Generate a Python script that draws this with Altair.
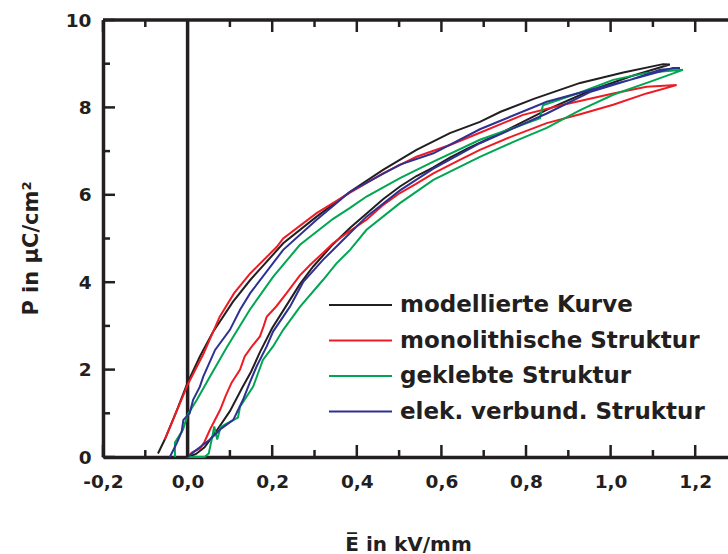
import altair as alt
import pandas as pd

# ---------------- data ----------------
series = ["modellierte Kurve", "monolithische Struktur", "geklebte Struktur", "elek. verbund. Struktur"]
colors = ["#231f20", "#ed1c24", "#00a651", "#2e3192"]

# modelled curve: lower branch up to the apex, then upper branch back down
black_x = [0.0, 0.02, 0.04, 0.065, 0.1, 0.13, 0.15, 0.171, 0.2, 0.226, 0.265, 0.297, 0.344, 0.385, 0.424,
           0.462, 0.502, 0.541, 0.58, 0.62, 0.66, 0.739, 0.85, 0.951, 1.05, 1.14,
           1.124, 1.03, 0.928, 0.82, 0.74, 0.691, 0.62, 0.541, 0.462, 0.384, 0.305, 0.226, 0.148,
           0.107, 0.06, 0.029, 0.0, -0.025, -0.054, -0.07]
black_y = [0.0, 0.07, 0.22, 0.55, 1.05, 1.6, 1.95, 2.4, 2.95, 3.35, 3.95, 4.36, 4.87, 5.25, 5.58,
           5.9, 6.19, 6.43, 6.62, 6.85, 7.05, 7.41, 7.95, 8.38, 8.72, 8.98,
           8.99, 8.8, 8.56, 8.2, 7.9, 7.67, 7.41, 7.03, 6.57, 6.07, 5.5, 4.89, 4.05,
           3.55, 2.86, 2.3, 1.7, 1.08, 0.4, 0.08]

red_x = [0.0, 0.01, 0.03, 0.04, 0.053, 0.077, 0.09, 0.104, 0.124, 0.135, 0.152, 0.171, 0.18, 0.187, 0.21,
         0.234, 0.265, 0.29, 0.32, 0.344, 0.38, 0.423, 0.46, 0.502, 0.54, 0.581, 0.64, 0.691, 0.77, 0.849,
         0.93, 1.006, 1.085, 1.156,
         1.085, 1.006, 0.888, 0.793, 0.691, 0.62, 0.541, 0.462, 0.384, 0.305, 0.226, 0.211, 0.148,
         0.11, 0.076, 0.037, 0.0, -0.03, -0.054]
red_y = [0.0, 0.1, 0.2, 0.35, 0.63, 1.08, 1.4, 1.7, 2.0, 2.3, 2.53, 2.76, 3.0, 3.21, 3.45,
         3.75, 4.15, 4.4, 4.67, 4.89, 5.15, 5.43, 5.75, 6.04, 6.25, 6.49, 6.78, 7.03, 7.35, 7.64,
         7.85, 8.06, 8.32, 8.51,
         8.47, 8.32, 8.06, 7.83, 7.42, 7.14, 6.87, 6.49, 6.05, 5.58, 5.0, 4.81, 4.2,
         3.75, 3.21, 2.35, 1.65, 0.95, 0.4]

green_x = [0.0, 0.04, 0.05, 0.058, 0.063, 0.07, 0.078, 0.088, 0.119, 0.124, 0.155, 0.178, 0.202, 0.226,
           0.266, 0.32, 0.352, 0.384, 0.423, 0.502, 0.581, 0.691, 0.77, 0.849, 0.928, 1.006, 1.094, 1.171,
           1.085, 1.006, 0.928, 0.84, 0.833, 0.77, 0.691, 0.581, 0.502, 0.423, 0.384, 0.344, 0.265,
           0.202, 0.147, 0.092, 0.053, 0.022, 0.0, -0.011, -0.03, -0.03]
green_y = [0.0, 0.0, 0.08, 0.45, 0.7, 0.4, 0.68, 0.74, 0.9, 1.15, 1.61, 2.22, 2.53, 2.91,
           3.44, 4.05, 4.43, 4.74, 5.2, 5.81, 6.34, 6.87, 7.21, 7.53, 7.94, 8.29, 8.59, 8.86,
           8.79, 8.63, 8.34, 8.05, 7.75, 7.53, 7.26, 6.76, 6.38, 5.96, 5.7, 5.45, 4.85,
           4.12, 3.37, 2.5, 1.84, 1.31, 0.97, 0.62, 0.33, 0.0]

blue_x = [0.0, 0.022, 0.053, 0.077, 0.108, 0.131, 0.147, 0.163, 0.187, 0.202, 0.242, 0.273, 0.32, 0.368,
          0.423, 0.502, 0.581, 0.691, 0.849, 0.951, 1.046, 1.147,
          1.164, 1.117, 1.046, 0.951, 0.849, 0.691, 0.581, 0.502, 0.384, 0.305, 0.226, 0.148,
          0.124, 0.1, 0.065, 0.037, 0.029, 0.013, 0.005, -0.01, -0.014, -0.025, -0.042]
blue_y = [0.0, 0.17, 0.4, 0.63, 0.85, 1.31, 1.7, 2.07, 2.53, 2.87, 3.44, 4.0, 4.51, 4.97,
          5.5, 6.1, 6.6, 7.18, 7.86, 8.35, 8.63, 8.9,
          8.9, 8.86, 8.63, 8.4, 8.13, 7.5, 6.95, 6.69, 6.07, 5.43, 4.74, 3.75,
          3.37, 2.91, 2.45, 1.84, 1.61, 1.31, 1.0, 0.85, 0.58, 0.33, 0.0]

x_major_ticks = [-0.2, 0.0, 0.2, 0.4, 0.6, 0.8, 1.0, 1.2]
x_minor_ticks = [-0.1, 0.1, 0.3, 0.5, 0.7, 0.9, 1.1]
y_major_ticks = [0, 2, 4, 6, 8, 10]
y_minor_ticks = [1, 3, 5, 7, 9]

X_MIN, X_MAX = -0.2, 1.2775
Y_MIN, Y_MAX = 0, 10

# ---------------- tables ----------------
rows = []
for name, xs, ys in zip(series, [black_x, red_x, green_x, blue_x], [black_y, red_y, green_y, blue_y]):
    for i, (x, y) in enumerate(zip(xs, ys)):
        rows.append({"serie": name, "E": x, "P": y, "i": i})
df = pd.DataFrame(rows)

W, H = 625, 437
ux = (X_MAX - X_MIN) / W   # data units per pixel
uy = (Y_MAX - Y_MIN) / H
tick_rows = []
for v in x_major_ticks:
    tick_rows.append({"E": v, "E2": v, "P": 0, "P2": 12 * uy})
    tick_rows.append({"E": v, "E2": v, "P": 10, "P2": 10 - 12 * uy})
for v in x_minor_ticks:
    tick_rows.append({"E": v, "E2": v, "P": 0, "P2": 7 * uy})
    tick_rows.append({"E": v, "E2": v, "P": 10, "P2": 10 - 7 * uy})
for v in y_major_ticks:
    tick_rows.append({"E": X_MIN, "E2": X_MIN + 12 * ux, "P": v, "P2": v})
for v in y_minor_ticks:
    tick_rows.append({"E": X_MIN, "E2": X_MIN + 7 * ux, "P": v, "P2": v})
ticks_df = pd.DataFrame(tick_rows)

frame_df = pd.DataFrame([{"E": X_MIN, "E2": X_MAX, "P": 10, "P2": 10}])
zero_df = pd.DataFrame([{"E": 0.0, "E2": 0.0, "P": 0, "P2": 10}])

TXT = "#231f20"
FONT = "DejaVu Sans"

xscale = alt.Scale(domain=[X_MIN, X_MAX], nice=False, zero=False)
yscale = alt.Scale(domain=[Y_MIN, Y_MAX], nice=False, zero=False)

xaxis = alt.Axis(
    title="E\u0305 in kV/mm", values=x_major_ticks,
    labelExpr="replace(replace(format(datum.value, '.1f'), '.', ','), '\u2212', '-')",
    ticks=False, tickSize=0, grid=False, domain=True, domainWidth=3.5, domainColor=TXT,
    labelFont=FONT, labelFontWeight="bold", labelFontSize=18.5, labelColor=TXT,
    labelPadding=15, labelFlush=False, labelOverlap=False,
    titleFont=FONT, titleFontWeight="bold", titleFontSize=20, titleColor=TXT,
    titleX=305, titleY=93, titleBaseline="alphabetic", titleAlign="center",
)
yaxis = alt.Axis(
    title="P in \u03bcC/cm\u00b2", values=y_major_ticks, format="d",
    ticks=False, tickSize=0, grid=False, domain=True, domainWidth=3.5, domainColor=TXT,
    labelFont=FONT, labelFontWeight="bold", labelFontSize=18.5, labelColor=TXT,
    labelPadding=12, labelFlush=False, labelOverlap=False,
    titleFont=FONT, titleFontWeight="bold", titleFontSize=21, titleColor=TXT,
    titleX=-66, titleY=228, titleBaseline="alphabetic", titleAlign="center", titleAngle=270,
)

zero_line = alt.Chart(zero_df).mark_rule(color=TXT, strokeWidth=3.5).encode(
    x=alt.X("E:Q", scale=xscale, axis=xaxis), y=alt.Y("P:Q", scale=yscale, axis=yaxis),
    y2="P2:Q",
)

lines = alt.Chart(df).mark_line(strokeWidth=2).encode(
    x=alt.X("E:Q", scale=xscale, axis=xaxis),
    y=alt.Y("P:Q", scale=yscale, axis=yaxis),
    color=alt.Color("serie:N", scale=alt.Scale(domain=series, range=colors),
                    legend=alt.Legend(orient="none", legendX=246, legendY=273.5, title=None,
                                      symbolType="M-3,0H3", symbolSize=441, symbolStrokeWidth=2,
                                      labelFont=FONT, labelFontWeight="bold", labelFontSize=23,
                                      labelColor=TXT, labelOffset=28, rowPadding=11.5, padding=0,
                                      labelLimit=400)),
    order="i:Q",
)

tick_marks = alt.Chart(ticks_df).mark_rule(color=TXT, strokeWidth=2.5).encode(
    x=alt.X("E:Q", scale=xscale, axis=xaxis), x2="E2:Q",
    y=alt.Y("P:Q", scale=yscale, axis=yaxis), y2="P2:Q",
)

frame = alt.Chart(frame_df).mark_rule(color=TXT, strokeWidth=3.5).encode(
    x=alt.X("E:Q", scale=xscale, axis=xaxis), x2="E2:Q",
    y=alt.Y("P:Q", scale=yscale, axis=yaxis),
)

chart = alt.layer(zero_line, lines, tick_marks, frame).properties(
    width=W, height=H,
    autosize=alt.AutoSizeParams(type="none"),
    padding={"left": 103, "top": 20, "right": 0, "bottom": 97},
    background="white",
).configure_view(stroke=None)

chart.save("out.html", embed_options={"renderer": "svg", "actions": False})
